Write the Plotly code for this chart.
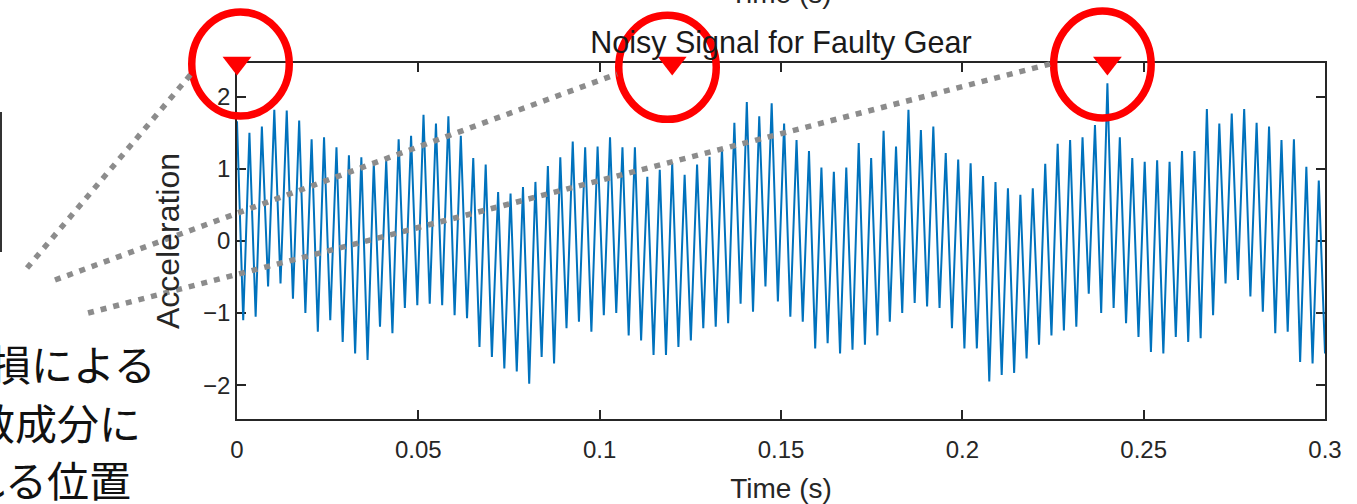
import plotly.graph_objects as go

# ---- data ----
# one crest and one trough per gear-mesh cycle, in time order
peaks = [
    1.66, 1.50, 1.59, 1.82, 1.81, 1.67, 1.41, 1.44, 1.30, 1.19, 1.16, 1.08, 1.12, 1.41, 1.46,
    1.75, 1.63, 1.73, 1.46, 1.15, 1.06, 0.68, 0.66, 0.75, 0.82, 1.04, 1.16, 1.38, 1.30,
    1.31, 1.44, 1.30, 1.30, 0.89, 0.99, 1.08, 0.92, 1.06, 1.17, 1.29, 1.64, 1.93, 1.73,
    1.91, 1.63, 1.40, 1.25, 1.02, 0.96, 1.02, 1.36, 1.15, 1.53, 1.31, 1.82, 1.54, 1.59, 1.22,
    1.13, 1.08, 0.90, 0.82, 0.73, 0.64, 0.73, 1.07, 1.35, 1.40, 1.44, 1.61, 2.19, 1.44,
    1.15, 1.10, 1.12, 1.10, 1.25, 1.25, 1.83, 1.63, 1.77, 1.83, 1.64, 1.59, 1.40, 1.41, 1.03, 0.84,
]
troughs = [
    -1.10, -1.05, -0.63, -0.59, -0.80, -1.00, -1.26, -1.10, -1.40, -1.56, -1.65, -1.19, -1.28, -0.93,
    -0.89, -0.87, -0.89, -1.03, -1.07, -1.47, -1.61, -1.77, -1.81, -1.98, -1.61, -1.70, -1.21, -1.12, -1.26,
    -1.03, -1.00, -1.31, -1.38, -1.58, -1.58, -1.47, -1.38, -1.21, -1.19, -1.14, -0.87, -0.98, -0.63,
    -0.84, -1.05, -1.12, -1.49, -1.42, -1.56, -1.51, -1.44, -1.31, -1.12, -1.00, -0.86, -0.91, -0.93, -1.21,
    -1.49, -1.49, -1.95, -1.86, -1.83, -1.63, -1.44, -1.31, -1.24, -1.19, -0.73, -1.00, -0.93, -1.14,
    -1.33, -1.54, -1.56, -1.33, -1.40, -1.35, -1.03, -0.59, -0.54, -0.77, -0.98, -1.28, -1.26, -1.68, -1.70, -1.56,
]
T_START, T_END = 0.0, 0.3
Y_LOW, Y_HIGH = -2.47, 2.47
x_ticks = [0, 0.05, 0.1, 0.15, 0.2, 0.25, 0.3]
x_tick_text = ["0", "0.05", "0.1", "0.15", "0.2", "0.25", "0.3"]
y_ticks = [-2, -1, 0, 1, 2]
y_tick_text = ["\u22122", "\u22121", "0", "1", "2"]
fault_times = [0.0, 0.12, 0.24]
note_lines = ["欠損による", "周波数成分に", "現れる位置"]
title_text = "Noisy Signal for Faulty Gear"
x_label = "Time (s)"
y_label = "Acceleration"

# ---- build the series ----
values = []
for p, tr in zip(peaks, troughs):
    values.extend([p, tr])
n = len(values)
times = [T_START + (T_END - T_START) * i / (n - 1) for i in range(n)]

AX = "#262626"
BLUE = "#0072BD"
RED = "#FF0000"
GRAY = "#8C8C8C"
FONT = "Liberation Sans"

fig = go.Figure()
fig.add_trace(go.Scatter(
    x=times, y=values, mode="lines",
    line=dict(color=BLUE, width=2.0),
    hoverinfo="skip", showlegend=False,
))
fig.add_trace(go.Scatter(
    x=fault_times, y=[Y_HIGH] * len(fault_times), mode="markers",
    marker=dict(symbol="triangle-down", size=25, color=RED, line=dict(width=0)),
    cliponaxis=False, hoverinfo="skip", showlegend=False,
))

span = T_END - T_START
shapes = []
# red rings around the fault markers (pixel sized, anchored on the fault times)
ring_style = [(3.5, -1.0, 52.0), (-4.7, -4.3, 52.0), (-5.0, -1.5, 53.5)]
for t, (dx, dy, ry) in zip(fault_times, ring_style):
    shapes.append(dict(
        type="circle", xref="paper", yref="paper",
        xsizemode="pixel", ysizemode="pixel",
        xanchor=(t - T_START) / span, yanchor=1.0,
        x0=dx - 48.75, x1=dx + 48.75, y0=dy - ry, y1=dy + ry,
        line=dict(color=RED, width=7.5), layer="above",
    ))
# grey dotted leader lines from the note to the rings
leaders = [
    (-0.1930, 0.4242, -0.0414, 0.9719),
    (-0.1673, 0.3904, 0.3493, 0.9691),
    (-0.1369, 0.2978, 0.7472, 0.9972),
]
for x0, y0, x1, y1 in leaders:
    shapes.append(dict(
        type="line", xref="paper", yref="paper", x0=x0, y0=y0, x1=x1, y1=y1,
        line=dict(color=GRAY, width=5.5, dash="6px,7px"), layer="above",
    ))
# dark bar at the very left edge of the slide
shapes.append(dict(type="line", xref="paper", yref="paper",
                   x0=-0.2169, x1=-0.2169, y0=0.4691, y1=0.8624,
                   line=dict(color="#333333", width=2)))

annotations = []
note_pos = [(-0.0726, 0.159), (-0.0864, -0.0065), (-0.0956, -0.167)]
for txt, (ax_, ay_) in zip(note_lines, note_pos):
    annotations.append(dict(
        text=txt, xref="paper", yref="paper", x=ax_, y=ay_,
        xanchor="right", yanchor="middle", showarrow=False,
        font=dict(family="Noto Sans CJK JP", size=42, color="#111111"),
    ))
# x label of the plot above, cut by the top edge of the picture
annotations.append(dict(
    text=x_label, xref="paper", yref="paper", x=0.5, y=1.195,
    xanchor="center", yanchor="middle", showarrow=False,
    font=dict(family=FONT, size=28, color=AX),
))

fig.update_layout(
    width=1357, height=504, autosize=False,
    margin=dict(l=237, r=32, t=63, b=85),
    paper_bgcolor="white", plot_bgcolor="white",
    title=dict(text=title_text, x=0.5755, xanchor="center",
               y=1 - 42 / 504, yanchor="middle",
               font=dict(family=FONT, size=30.5, color="#1a1a1a")),
    xaxis=dict(range=[T_START, T_END], tickvals=x_ticks, ticktext=x_tick_text,
               ticks="inside", ticklen=9, tickwidth=1.5, tickcolor=AX,
               showline=True, linecolor=AX, linewidth=1.5, mirror="ticks",
               showgrid=False, zeroline=False, layer="below traces",
               automargin=False, ticklabelstandoff=8,
               tickfont=dict(family=FONT, size=24, color=AX),
               title=dict(text=x_label, standoff=17,
                          font=dict(family=FONT, size=28, color=AX))),
    yaxis=dict(range=[Y_LOW, Y_HIGH], tickvals=y_ticks, ticktext=y_tick_text,
               ticks="inside", ticklen=9, tickwidth=1.5, tickcolor=AX,
               showline=True, linecolor=AX, linewidth=1.5, mirror="ticks",
               showgrid=False, zeroline=False, layer="below traces",
               automargin=False,
               tickfont=dict(family=FONT, size=24, color=AX),
               title=dict(text=y_label, standoff=14,
                          font=dict(family=FONT, size=32, color=AX))),
    shapes=shapes, annotations=annotations,
)

fig.write_html(
    "out.html",
    config={"displayModeBar": False},
    post_script="document.body.style.margin='0px';document.body.style.overflow='hidden';",
)
